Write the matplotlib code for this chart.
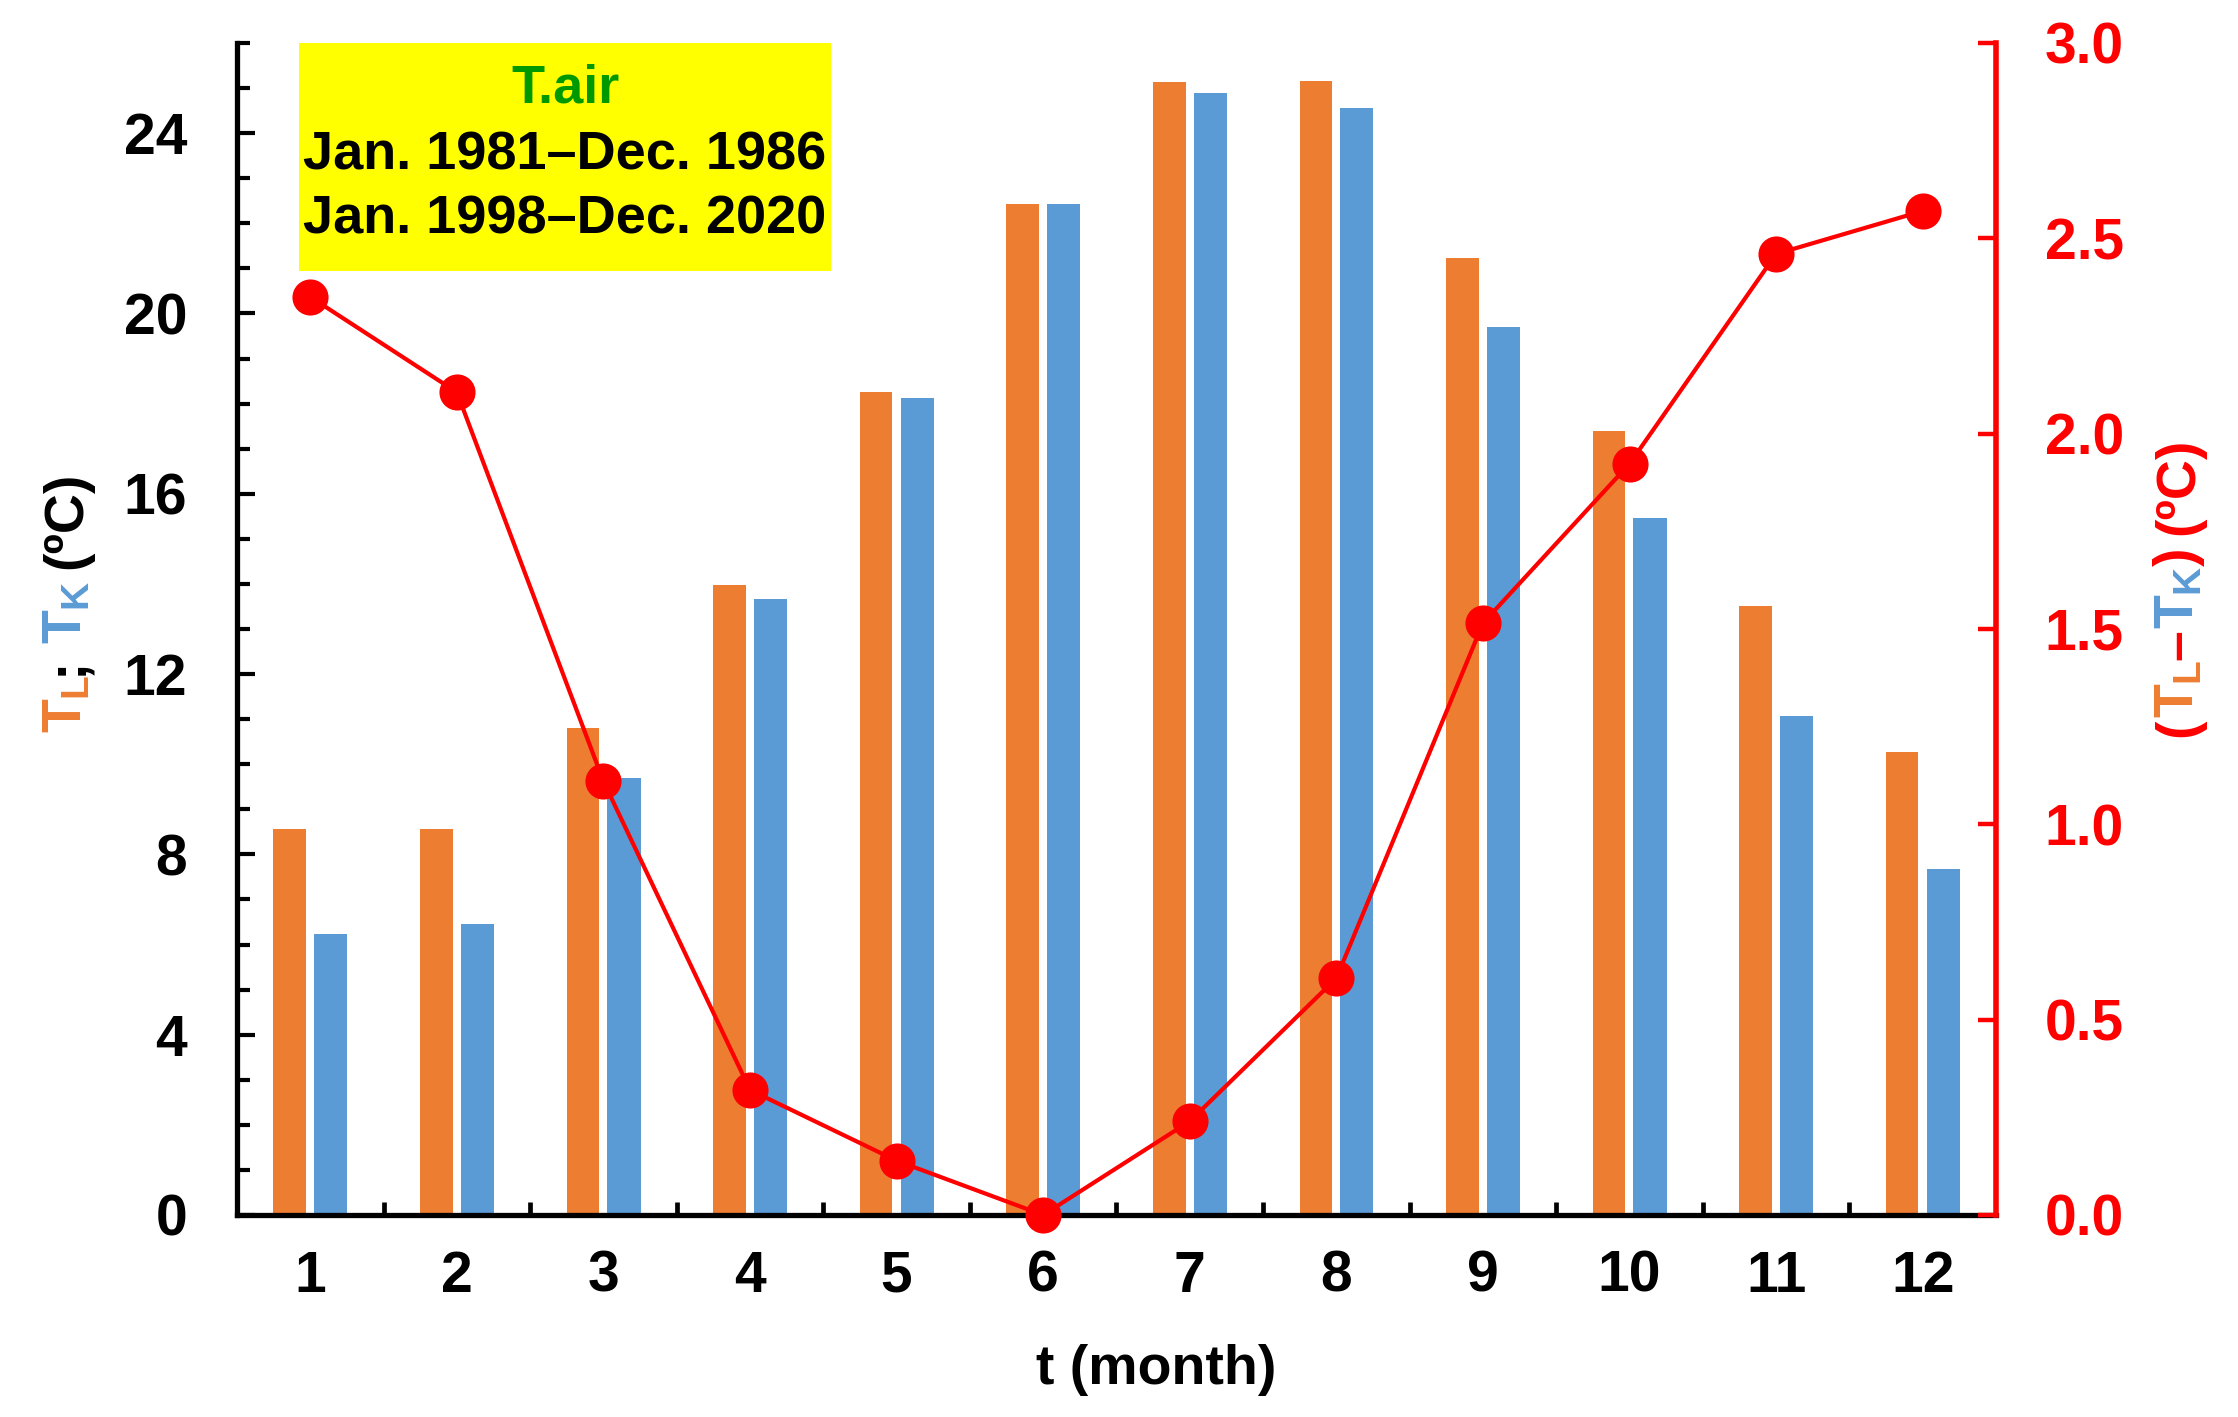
import numpy as np
import matplotlib
matplotlib.use("Agg")
import matplotlib.pyplot as plt
from matplotlib.patches import Rectangle
from matplotlib.ticker import MultipleLocator, FixedLocator, FormatStrFormatter

plt.rcParams['font.family'] = ['Liberation Sans', 'DejaVu Sans']
plt.rcParams['font.weight'] = 'bold'
plt.rcParams['mathtext.fontset'] = 'custom'
plt.rcParams['mathtext.rm'] = 'Liberation Sans:bold'
plt.rcParams['mathtext.it'] = 'Liberation Sans:bold'
plt.rcParams['mathtext.bf'] = 'Liberation Sans:bold'

# monthly mean air temperature (ºC) and difference
months = np.arange(1, 13)
t_l = [8.57, 8.57, 10.8, 13.98, 18.25, 22.42, 25.14, 25.15, 21.22, 17.39, 13.5, 10.28]
t_k = [6.23, 6.45, 9.7, 13.66, 18.12, 22.42, 24.89, 24.56, 19.70, 15.46, 11.07, 7.68]
t_diff = [2.35, 2.106, 1.11, 0.32, 0.139, 0.0, 0.24, 0.606, 1.515, 1.923, 2.46, 2.57]
box_lines = ["T.air", "Jan. 1981–Dec. 1986", "Jan. 1998–Dec. 2020"]

ORANGE = '#ED7D31'
BLUE = '#5B9BD5'
RED = '#FF0000'
GREEN = '#009A00'
FS = 20.5
FL = 20

W, H, DPI = 2238, 1417, 200
fig = plt.figure(figsize=(W / DPI, H / DPI), dpi=DPI)
ax = fig.add_axes([237 / W, 1 - 1215 / H, (1996 - 237) / W, (1215 - 43) / H])

ax.bar(months - 0.14, t_l, width=0.222, color=ORANGE, zorder=2)
ax.bar(months + 0.14, t_k, width=0.226, color=BLUE, zorder=2)
ax.set_xlim(0.5, 12.5)
ax.set_ylim(0, 26)

ax.yaxis.set_major_locator(MultipleLocator(4))
ax.yaxis.set_minor_locator(MultipleLocator(1))
ax.xaxis.set_major_locator(FixedLocator(months))
ax.xaxis.set_minor_locator(FixedLocator(np.arange(1.5, 12, 1)))
ax.tick_params(axis='y', which='major', direction='in', length=6.5, width=1.5, labelsize=FS, pad=18)
ax.tick_params(axis='y', which='minor', direction='in', length=4.6, width=1.5)
ax.tick_params(axis='x', which='major', length=0, labelsize=FS, pad=12.5)
ax.tick_params(axis='x', which='minor', direction='in', length=4.8, width=1.7)
for lab in ax.get_xticklabels() + ax.get_yticklabels():
    lab.set_fontweight('bold')

ax.spines['top'].set_visible(False)
ax.spines['right'].set_visible(False)
ax.spines['left'].set_linewidth(1.9)
ax.spines['bottom'].set_linewidth(1.9)

ax2 = ax.twinx()
ax2.plot(months, t_diff, color=RED, lw=1.5, marker='o', ms=12, zorder=3, clip_on=False)
ax2.set_ylim(0, 3.0)
ax2.yaxis.set_major_locator(MultipleLocator(0.5))
ax2.yaxis.set_major_formatter(FormatStrFormatter('%.1f'))
ax2.tick_params(axis='y', which='major', direction='in', length=6.5, width=1.6,
                labelsize=FS, pad=17.5, colors=RED)
for lab in ax2.get_yticklabels():
    lab.set_fontweight('bold')
for s in ['top', 'left', 'bottom']:
    ax2.spines[s].set_visible(False)
ax2.spines['right'].set_color(RED)
ax2.spines['right'].set_linewidth(2.0)

# yellow info box
ax2.add_patch(Rectangle((0.0352, 0.8055), 0.3025, 0.1945, transform=ax2.transAxes,
                        facecolor='#FFFF00', edgecolor='none', zorder=4))
for txt, yy, col in zip(box_lines, [0.9616, 0.9044, 0.849], [GREEN, 'black', 'black']):
    ax2.text(0.1865, yy, txt, transform=ax2.transAxes, ha='center', va='center',
             fontsize=19.5, fontweight='bold', color=col, zorder=5)

fig.text(1156 / W, 1 - 1370 / H, 't (month)', ha='center', va='center', fontsize=FL,
         fontweight='bold')

# multicolour rotated axis labels
fig.canvas.draw()
renderer = fig.canvas.get_renderer()
space = 0.21 * FL * DPI / 72


def stacked_label(x, y0, pieces):
    y = y0
    for s, c, gap in pieces:
        y += gap
        t = fig.text(x / W, y / H, s, color=c, rotation=90, rotation_mode='anchor',
                     ha='left', va='baseline', fontsize=FL, fontweight='bold')
        bb = t.get_window_extent(renderer)
        y += bb.height


stacked_label(81, H - 733, [(r'$T_L$', ORANGE, 0), (';', 'black', 0),
                            (r'$T_K$', BLUE, space), ('(ºC)', 'black', space)])
stacked_label(2193, H - 737, [('(', RED, 0), (r'$T_L$', ORANGE, 0), ('–', RED, 0),
                              (r'$T_K$', BLUE, 0), (')', RED, 0), ('(ºC)', RED, space)])

fig.savefig('out.png', dpi=DPI)
